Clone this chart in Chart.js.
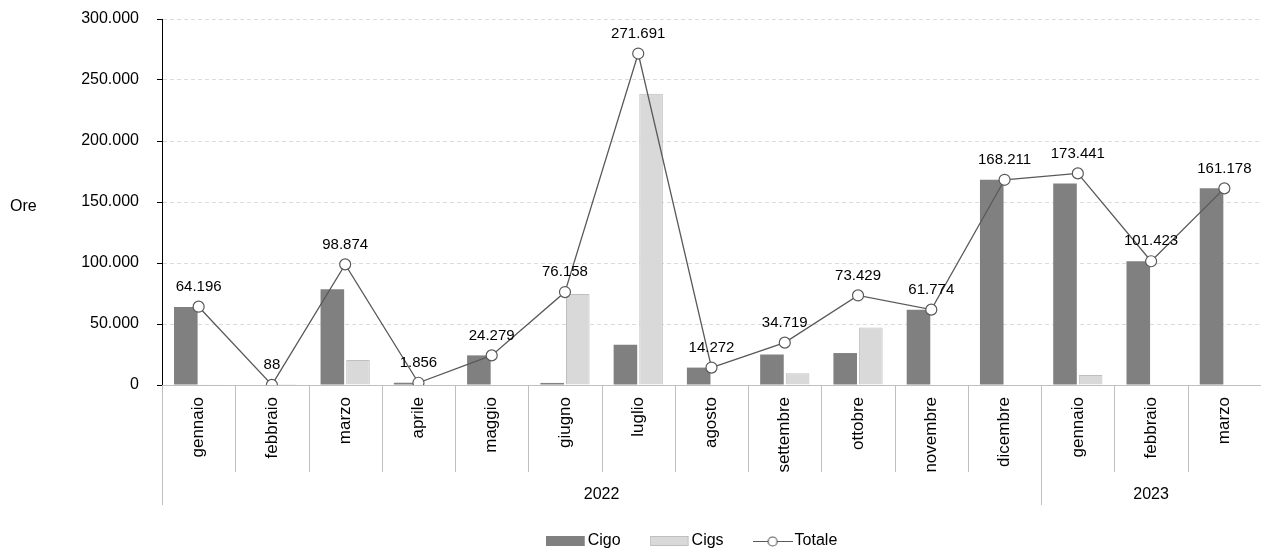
<!DOCTYPE html>
<html>
<head>
<meta charset="utf-8">
<script src="https://cdn.jsdelivr.net/npm/chart.js@4.4.1/dist/chart.umd.min.js"></script>
<style>
  html, body { margin: 0; padding: 0; background: #fff; overflow: hidden; }
  #wrap { width: 1261px; height: 548px; position: relative; }
  canvas { display: block; }
</style>
</head>
<body>
<div id="wrap"><canvas id="c"></canvas></div>
<script>
const months = ['gennaio', 'febbraio', 'marzo', 'aprile', 'maggio', 'giugno', 'luglio', 'agosto',
  'settembre', 'ottobre', 'novembre', 'dicembre', 'gennaio', 'febbraio', 'marzo'];
const yearLabels = ['2022', '2023'];
const yearMonths = [12, 3];
const cigo = [64000, 0, 78500, 1856, 24279, 1700, 33000, 14272, 25000, 26200, 61774, 168211, 165200, 101423, 161178];
const cigs = [200, 88, 20400, 0, 0, 74500, 238700, 0, 9700, 47200, 0, 0, 8200, 0, 0];
const totale = [64196, 88, 98874, 1856, 24279, 76158, 271691, 14272, 34719, 73429, 61774, 168211, 173441, 101423, 161178];

const FONT = "'Liberation Sans', Arial, sans-serif";

function fmt(v) {
  return String(Math.round(v)).replace(/\B(?=(\d{3})+(?!\d))/g, '.');
}

// legend icons, a bit wider than the box so the text sits close to them
function swatch(fill, stroke) {
  const c = document.createElement('canvas');
  c.width = 40;
  c.height = 10;
  const g = c.getContext('2d');
  g.fillStyle = fill;
  g.fillRect(0, 0, 39, 10);
  if (stroke) {
    g.strokeStyle = stroke;
    g.strokeRect(0.5, 0.5, 38, 9);
  }
  return c;
}
const lineIcon = document.createElement('canvas');
lineIcon.width = 40;
lineIcon.height = 12;
(function () {
  const g = lineIcon.getContext('2d');
  g.strokeStyle = '#595959';
  g.lineWidth = 1.2;
  g.beginPath();
  g.moveTo(0, 6.5);
  g.lineTo(40, 6.5);
  g.stroke();
  g.beginPath();
  g.arc(20, 6.5, 4.5, 0, Math.PI * 2);
  g.fillStyle = '#fff';
  g.fill();
  g.stroke();
})();
const legendIcons = [swatch('#808080'), swatch('#d9d9d9', '#bfbfbf'), lineIcon];

const extras = {
  id: 'extras',
  afterLayout(chart) {
    // the original legend sits a little left of the plot centre
    if (chart.legend) {
      chart.legend.left -= 17;
      chart.legend.right -= 17;
    }
  },
  afterDatasetsDraw(chart) {
    const { ctx } = chart;
    const meta = chart.getDatasetMeta(2);
    ctx.save();
    ctx.font = '15px ' + FONT;
    ctx.fillStyle = '#000';
    ctx.textAlign = 'center';
    ctx.textBaseline = 'middle';
    meta.data.forEach((pt, i) => {
      ctx.fillText(fmt(totale[i]), pt.x, pt.y - 20);
    });
    ctx.restore();
  },
  afterDraw(chart) {
    const { ctx, chartArea, scales: { x, y } } = chart;
    const half = (x.getPixelForValue(1) - x.getPixelForValue(0)) / 2;
    const base = chartArea.bottom;
    const yearStarts = [0];
    yearMonths.forEach((n, k) => yearStarts.push(yearStarts[k] + n));

    ctx.save();
    ctx.strokeStyle = '#bfbfbf';
    ctx.lineWidth = 1;
    ctx.beginPath();
    for (let i = 0; i < months.length; i++) {
      const px = Math.round(x.getPixelForValue(i) - half) + 0.5;
      const end = yearStarts.includes(i) ? base + 120 : base + 87;
      ctx.moveTo(px, base);
      ctx.lineTo(px, end);
    }
    ctx.stroke();

    ctx.font = '16px ' + FONT;
    ctx.fillStyle = '#000';
    ctx.textAlign = 'center';
    ctx.textBaseline = 'middle';
    yearLabels.forEach((lab, k) => {
      const a = x.getPixelForValue(yearStarts[k]) - half;
      const b = Math.min(x.getPixelForValue(yearStarts[k + 1]) - half, chart.width);
      ctx.fillText(lab, (a + b) / 2, base + 110);
    });

    ctx.textAlign = 'left';
    ctx.fillText('Ore', 10, y.getPixelForValue(150000) + 5);
    ctx.restore();
  }
};

new Chart(document.getElementById('c'), {
  data: {
    labels: months,
    datasets: [
      {
        type: 'bar', label: 'Cigo', data: cigo,
        backgroundColor: '#808080', borderColor: '#808080', borderWidth: 0,
        barPercentage: 0.92, categoryPercentage: 0.7, order: 2
      },
      {
        type: 'bar', label: 'Cigs', data: cigs,
        backgroundColor: '#d9d9d9', borderColor: '#bfbfbf', borderWidth: 1,
        barPercentage: 0.92, categoryPercentage: 0.7, order: 2
      },
      {
        type: 'line', label: 'Totale', data: totale,
        borderColor: '#595959', borderWidth: 1.3, tension: 0,
        pointRadius: 5.5, pointBackgroundColor: '#fff',
        pointBorderColor: '#595959', pointBorderWidth: 1.2, order: 1
      }
    ]
  },
  options: {
    responsive: true,
    maintainAspectRatio: false,
    animation: false,
    layout: { autoPadding: false, padding: { top: 19, left: 0, right: 0, bottom: 0 } },
    plugins: {
      tooltip: { enabled: false },
      legend: {
        position: 'bottom',
        fullSize: false,
        maxHeight: 50,
        labels: {
          usePointStyle: true,
          pointStyleWidth: 28,
          boxHeight: 10,
          padding: 35,
          color: '#000',
          font: { family: FONT, size: 16 },
          sort: (a, b) => a.datasetIndex - b.datasetIndex,
          generateLabels(chart) {
            const items = Chart.defaults.plugins.legend.labels.generateLabels(chart);
            items.forEach(it => { it.pointStyle = legendIcons[it.datasetIndex]; });
            return items;
          }
        }
      }
    },
    scales: {
      x: {
        grid: { display: false },
        border: { color: '#bfbfbf' },
        ticks: {
          maxRotation: 90, minRotation: 90, padding: 4, color: '#000',
          font: { family: FONT, size: 17 }
        },
        afterFit(s) {
          s.height = 113;
          s.paddingLeft = 0;
          s.paddingRight = 0;
        }
      },
      y: {
        min: 0, max: 300000,
        ticks: {
          stepSize: 50000, padding: 18, color: '#000',
          font: { family: FONT, size: 16 },
          callback: v => fmt(v)
        },
        grid: { color: '#dcdcdc', tickColor: '#000', tickLength: 5, tickBorderDash: [] },
        border: { color: '#000', dash: [4, 3] },
        afterFit(s) {
          s.width = 162;
          s.paddingTop = 0;
          s.paddingBottom = 0;
        }
      }
    }
  },
  plugins: [extras]
});
</script>
</body>
</html>
